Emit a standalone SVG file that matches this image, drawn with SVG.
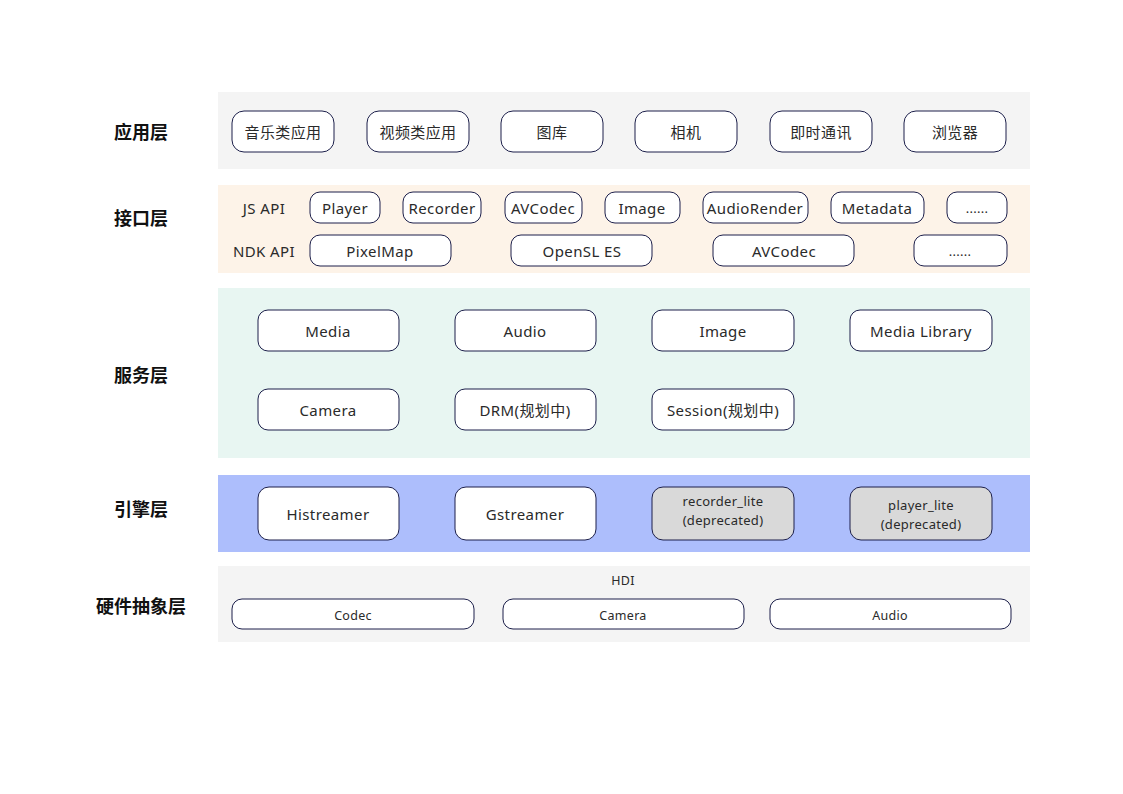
<svg xmlns="http://www.w3.org/2000/svg" width="1123" height="794" viewBox="0 0 1123 794">
<style>
.band{stroke:none}
.n{fill:#ffffff;stroke:#1c1f4a;stroke-width:1}
.g{fill:#d9d9d9;stroke:#1c1f4a;stroke-width:1}
text{font-family:"Noto Sans","Noto Sans CJK SC",sans-serif;fill:#2a2a2a;text-anchor:middle;dominant-baseline:central}
.t{font-size:15px;letter-spacing:0.4px}
.s{font-size:13px;letter-spacing:0.3px}
.h{font-size:12.5px;letter-spacing:0.3px}
.L{font-size:18px;font-weight:bold;fill:#111}
</style>
<rect width="1123" height="794" fill="#ffffff"/>
<g id="layer-app">
<rect class="band" x="218" y="92" width="812" height="77" fill="#f4f4f4"/>
<text class="L" x="141" y="132">应用层</text>
</g>
<g id="layer-api">
<rect class="band" x="218" y="185" width="812" height="88" fill="#fdf3e8"/>
<text class="L" x="141" y="218">接口层</text>
<text class="t" x="264" y="208">JS API</text>
<text class="t" x="264" y="251">NDK API</text>
</g>
<g id="layer-svc">
<rect class="band" x="218" y="288" width="812" height="170" fill="#e8f6f2"/>
<text class="L" x="141" y="375">服务层</text>
</g>
<g id="layer-eng">
<rect class="band" x="218" y="475" width="812" height="77" fill="#adbefc"/>
<text class="L" x="141" y="509">引擎层</text>
</g>
<g id="layer-hal">
<rect class="band" x="218" y="566" width="812" height="76" fill="#f4f4f4"/>
<text class="L" x="141" y="606">硬件抽象层</text>
<text class="h" x="623" y="580">HDI</text>
</g>
<g id="app1"><rect class="n" x="232" y="111" width="102" height="41" rx="12"/><text class="t" x="283" y="132">音乐类应用</text></g>
<g id="app2"><rect class="n" x="367" y="111" width="102" height="41" rx="12"/><text class="t" x="418" y="132">视频类应用</text></g>
<g id="app3"><rect class="n" x="501" y="111" width="102" height="41" rx="12"/><text class="t" x="552" y="132">图库</text></g>
<g id="app4"><rect class="n" x="635" y="111" width="102" height="41" rx="12"/><text class="t" x="686" y="132">相机</text></g>
<g id="app5"><rect class="n" x="770" y="111" width="102" height="41" rx="12"/><text class="t" x="821" y="132">即时通讯</text></g>
<g id="app6"><rect class="n" x="904" y="111" width="102" height="41" rx="12"/><text class="t" x="955" y="132">浏览器</text></g>
<g id="js1"><rect class="n" x="310" y="192" width="70" height="31" rx="10"/><text class="t" x="345" y="208">Player</text></g>
<g id="js2"><rect class="n" x="403" y="192" width="78" height="31" rx="10"/><text class="t" x="442" y="208">Recorder</text></g>
<g id="js3"><rect class="n" x="505" y="192" width="77" height="31" rx="10"/><text class="t" x="543" y="208">AVCodec</text></g>
<g id="js4"><rect class="n" x="605" y="192" width="75" height="31" rx="10"/><text class="t" x="642" y="208">Image</text></g>
<g id="js5"><rect class="n" x="703" y="192" width="105" height="31" rx="10"/><text class="t" x="755" y="208">AudioRender</text></g>
<g id="js6"><rect class="n" x="831" y="192" width="93" height="31" rx="10"/><text class="t" x="877" y="208">Metadata</text></g>
<g id="js7"><rect class="n" x="947" y="192" width="60" height="31" rx="10"/><text class="s" x="977" y="208">......</text></g>
<g id="ndk1"><rect class="n" x="310" y="235" width="141" height="31" rx="10"/><text class="t" x="380" y="251">PixelMap</text></g>
<g id="ndk2"><rect class="n" x="511" y="235" width="141" height="31" rx="10"/><text class="t" x="582" y="251">OpenSL ES</text></g>
<g id="ndk3"><rect class="n" x="713" y="235" width="141" height="31" rx="10"/><text class="t" x="784" y="251">AVCodec</text></g>
<g id="ndk4"><rect class="n" x="914" y="235" width="93" height="31" rx="10"/><text class="s" x="960" y="251">......</text></g>
<g id="svc1"><rect class="n" x="258" y="310" width="141" height="41" rx="10"/><text class="t" x="328" y="331">Media</text></g>
<g id="svc2"><rect class="n" x="455" y="310" width="141" height="41" rx="10"/><text class="t" x="525" y="331">Audio</text></g>
<g id="svc3"><rect class="n" x="652" y="310" width="142" height="41" rx="10"/><text class="t" x="723" y="331">Image</text></g>
<g id="svc4"><rect class="n" x="850" y="310" width="142" height="41" rx="10"/><text class="t" x="921" y="331">Media Library</text></g>
<g id="svc5"><rect class="n" x="258" y="389" width="141" height="41" rx="10"/><text class="t" x="328" y="410">Camera</text></g>
<g id="svc6"><rect class="n" x="455" y="389" width="141" height="41" rx="10"/><text class="t" x="525" y="410">DRM(规划中)</text></g>
<g id="svc7"><rect class="n" x="652" y="389" width="142" height="41" rx="10"/><text class="t" x="723" y="410">Session(规划中)</text></g>
<g id="eng1"><rect class="n" x="258" y="487" width="141" height="53" rx="11"/><text class="t" x="328" y="514">Histreamer</text></g>
<g id="eng2"><rect class="n" x="455" y="487" width="141" height="53" rx="11"/><text class="t" x="525" y="514">Gstreamer</text></g>
<g id="eng3"><rect class="g" x="652" y="487" width="142" height="53" rx="11"/><text class="s" x="723" y="501">recorder_lite</text><text class="s" x="723" y="520">(deprecated)</text></g>
<g id="eng4"><rect class="g" x="850" y="487" width="142" height="53" rx="11"/><text class="s" x="921" y="505">player_lite</text><text class="s" x="921" y="524">(deprecated)</text></g>
<g id="hdi1"><rect class="n" x="232" y="599" width="242" height="30" rx="10"/><text class="h" x="353" y="615">Codec</text></g>
<g id="hdi2"><rect class="n" x="503" y="599" width="241" height="30" rx="10"/><text class="h" x="623" y="615">Camera</text></g>
<g id="hdi3"><rect class="n" x="770" y="599" width="241" height="30" rx="10"/><text class="h" x="890" y="615">Audio</text></g>
<g id="connectors"></g>
</svg>
